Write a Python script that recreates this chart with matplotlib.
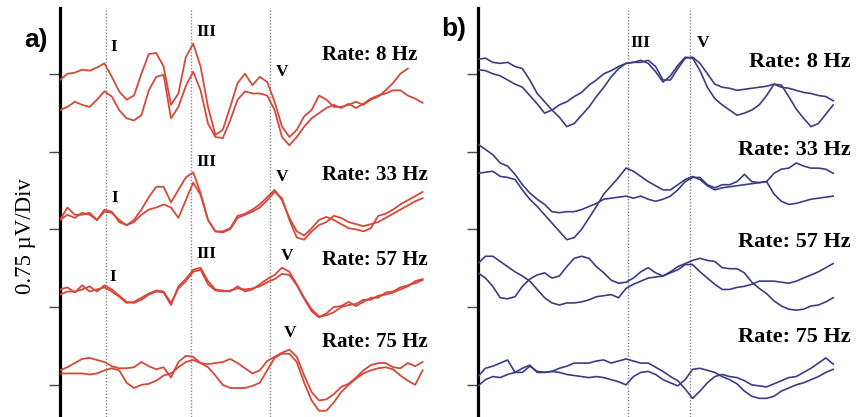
import numpy as np
from matplotlib import pyplot as plt

# ABR traces, amplitude in µV, one sample every 0.2 ms (two runs per rate)
a_8hz_1 = [0.29, 0.35, 0.36, 0.39, 0.38, 0.41, 0.45, 0.32, 0.18, 0.10, 0.14, 0.35, 0.54, 0.55, 0.42, 0.05,
           0.16, 0.51, 0.64, 0.42, 0.03, -0.24, -0.19, 0.03, 0.26, 0.35, 0.24, 0.32, 0.27, 0.08, -0.16, -0.26,
           -0.19, -0.06, 0.00, 0.14, 0.10, 0.03, 0.03, 0.05, 0.08, 0.05, 0.10, 0.13, 0.19, 0.26, 0.35, 0.40]
a_8hz_2 = [0.00, 0.03, 0.08, 0.05, 0.03, 0.10, 0.18, 0.13, 0.00, -0.08, -0.10, -0.05, 0.19, 0.32, 0.34, -0.08,
           0.03, 0.23, 0.37, 0.19, -0.13, -0.26, -0.27, -0.10, 0.10, 0.18, 0.16, 0.16, 0.14, 0.00, -0.26, -0.34,
           -0.26, -0.16, -0.08, -0.03, 0.02, 0.05, 0.02, 0.06, 0.02, 0.06, 0.11, 0.14, 0.16, 0.19, 0.19, 0.14,
           0.11, 0.07]
a_33hz_1 = [-0.05, 0.07, 0.00, 0.00, 0.02, -0.05, 0.05, 0.03, -0.07, -0.10, -0.05, 0.05, 0.17, 0.27, 0.27, 0.12,
            0.24, 0.36, 0.41, 0.21, -0.05, -0.16, -0.16, -0.13, -0.01, 0.01, 0.05, 0.10, 0.17, 0.24, 0.14, -0.03,
            -0.16, -0.20, -0.13, -0.05, -0.02, -0.05, -0.09, -0.13, -0.14, -0.16, -0.13, -0.01, 0.01, 0.05, 0.10,
            0.14, 0.18, 0.22]
a_33hz_2 = [-0.05, 0.00, -0.03, 0.02, 0.00, -0.05, 0.03, 0.02, -0.05, -0.10, -0.07, 0.00, 0.05, 0.07, 0.10, 0.07,
            -0.03, 0.14, 0.31, 0.19, -0.05, -0.16, -0.17, -0.14, -0.03, 0.00, 0.03, 0.07, 0.14, 0.22, 0.16, -0.05,
            -0.22, -0.24, -0.16, -0.10, -0.07, -0.01, -0.03, -0.07, -0.09, -0.11, -0.09, -0.07, -0.03, 0.01, 0.05,
            0.09, 0.13, 0.16]
a_57hz_1 = [-0.03, 0.00, 0.00, 0.02, 0.05, 0.00, 0.06, 0.02, -0.04, -0.10, -0.11, -0.08, -0.03, 0.00, -0.01, -0.13,
            0.05, 0.12, 0.21, 0.23, 0.10, 0.02, 0.01, 0.00, 0.05, 0.00, 0.02, 0.07, 0.12, 0.16, 0.23, 0.19, 0.07,
            -0.06, -0.17, -0.24, -0.23, -0.20, -0.15, -0.13, -0.12, -0.08, -0.08, -0.04, -0.03, -0.01, 0.02, 0.05,
            0.10, 0.12]
a_57hz_2 = [0.02, 0.04, -0.01, 0.06, 0.00, 0.02, 0.04, 0.00, -0.05, -0.11, -0.10, -0.06, -0.02, 0.01, 0.00, -0.11,
            0.03, 0.10, 0.19, 0.21, 0.07, 0.01, 0.00, 0.01, 0.03, 0.02, 0.03, 0.05, 0.09, 0.12, 0.17, 0.16, 0.06,
            -0.07, -0.19, -0.25, -0.21, -0.15, -0.14, -0.10, -0.14, -0.10, -0.06, -0.06, -0.01, 0.00, 0.04, 0.06,
            0.08, 0.11]
a_75hz_1 = [0.00, 0.03, 0.07, 0.11, 0.12, 0.10, 0.08, 0.04, 0.02, 0.02, 0.03, 0.08, 0.04, 0.01, 0.03, -0.07,
            0.08, 0.14, 0.13, 0.07, 0.06, 0.07, 0.08, 0.11, 0.07, 0.02, -0.03, 0.00, 0.09, 0.13, 0.17, 0.20, 0.13,
            -0.05, -0.21, -0.29, -0.28, -0.23, -0.16, -0.13, -0.07, 0.00, 0.05, 0.07, 0.07, 0.03, 0.02, 0.07,
            0.04, 0.08]
a_75hz_2 = [-0.03, -0.03, -0.03, -0.03, -0.04, -0.03, 0.00, 0.02, 0.00, -0.12, -0.17, -0.14, -0.13, -0.10, -0.05,
            -0.03, 0.03, 0.08, 0.10, 0.07, 0.03, -0.05, -0.14, -0.17, -0.17, -0.17, -0.15, -0.12, 0.00, 0.12, 0.16,
            0.16, 0.08, -0.12, -0.29, -0.39, -0.39, -0.31, -0.21, -0.14, -0.08, -0.03, 0.00, 0.02, 0.03, 0.01,
            -0.05, -0.10, -0.14, 0.00]

b_8hz_1 = [0.30, 0.31, 0.27, 0.26, 0.27, 0.23, 0.21, 0.10, -0.03, -0.11, -0.19, -0.26, -0.35, -0.32, -0.24, -0.16,
           -0.06, 0.03, 0.13, 0.21, 0.26, 0.27, 0.29, 0.26, 0.18, 0.08, 0.14, 0.24, 0.32, 0.31, 0.19, 0.03, -0.08,
           -0.14, -0.19, -0.24, -0.22, -0.19, -0.14, -0.05, 0.06, 0.05, -0.06, -0.18, -0.27, -0.35, -0.32, -0.23,
           -0.14]
b_8hz_2 = [0.20, 0.19, 0.16, 0.14, 0.10, 0.06, 0.03, -0.05, -0.13, -0.22, -0.19, -0.14, -0.11, -0.06, -0.02, 0.05,
           0.10, 0.16, 0.19, 0.23, 0.26, 0.27, 0.27, 0.29, 0.23, 0.10, 0.10, 0.21, 0.31, 0.32, 0.26, 0.16, 0.06,
           0.03, 0.02, 0.00, 0.01, 0.02, 0.03, 0.04, 0.06, 0.03, 0.02, 0.00, -0.02, -0.03, -0.05, -0.06, -0.10]
b_33hz_1 = [0.34, 0.29, 0.24, 0.16, 0.13, 0.05, -0.05, -0.13, -0.19, -0.24, -0.31, -0.32, -0.31, -0.31, -0.29,
            -0.26, -0.23, -0.19, -0.18, -0.17, -0.16, -0.18, -0.16, -0.19, -0.21, -0.19, -0.16, -0.10, -0.02, 0.02,
            0.02, -0.05, -0.08, -0.05, -0.05, -0.02, 0.05, -0.02, -0.03, -0.02, 0.06, 0.10, 0.11, 0.16, 0.13, 0.11,
            0.11, 0.10, 0.06]
b_33hz_2 = [0.06, 0.07, 0.08, 0.03, 0.02, 0.00, -0.10, -0.19, -0.26, -0.34, -0.42, -0.50, -0.58, -0.56, -0.48,
            -0.37, -0.26, -0.14, -0.06, 0.02, 0.11, 0.08, 0.03, -0.02, -0.06, -0.10, -0.10, -0.05, 0.00, 0.03,
            0.00, -0.06, -0.10, -0.08, -0.07, -0.06, -0.05, -0.04, -0.03, -0.02, -0.14, -0.21, -0.24, -0.23, -0.21,
            -0.19, -0.18, -0.17, -0.16]
b_57hz_1 = [0.06, 0.13, 0.13, 0.08, 0.03, -0.02, -0.06, -0.11, -0.19, -0.27, -0.32, -0.34, -0.32, -0.32, -0.31,
            -0.29, -0.26, -0.25, -0.24, -0.27, -0.18, -0.14, -0.11, -0.08, -0.07, -0.06, -0.02, 0.03, 0.06, 0.09,
            0.11, 0.09, 0.08, 0.02, 0.01, 0.01, -0.03, -0.12, -0.18, -0.23, -0.30, -0.35, -0.38, -0.39, -0.38,
            -0.35, -0.34, -0.31, -0.27]
b_57hz_2 = [-0.03, -0.08, -0.16, -0.27, -0.28, -0.26, -0.16, -0.09, -0.05, -0.03, -0.08, -0.06, 0.03, 0.11, 0.13,
            0.11, 0.03, -0.03, -0.10, -0.13, -0.12, -0.08, -0.02, 0.02, -0.03, -0.06, -0.03, 0.00, 0.05, 0.05,
            -0.02, -0.08, -0.14, -0.19, -0.19, -0.17, -0.16, -0.14, -0.11, -0.11, -0.11, -0.12, -0.13, -0.11,
            -0.08, -0.05, -0.02, 0.02, 0.06]
b_75hz_1 = [-0.02, 0.06, 0.08, 0.11, 0.14, 0.02, 0.06, 0.09, 0.02, 0.02, 0.03, 0.06, 0.08, 0.11, 0.11, 0.11,
            0.13, 0.14, 0.11, 0.13, 0.15, 0.13, 0.11, 0.11, 0.07, 0.03, -0.02, -0.06, -0.14, -0.23, -0.16, -0.08,
            -0.02, 0.00, -0.02, -0.03, -0.06, -0.10, -0.11, -0.12, -0.09, -0.06, -0.03, -0.02, 0.02, 0.06, 0.11,
            0.16, 0.10]
b_75hz_2 = [-0.11, -0.05, -0.02, -0.03, 0.00, 0.02, 0.02, 0.08, 0.03, 0.02, 0.03, 0.02, 0.00, -0.01, -0.02, -0.03,
            -0.02, -0.03, -0.05, -0.07, -0.10, -0.02, 0.02, 0.03, 0.00, -0.05, -0.08, -0.11, -0.05, 0.05, 0.06,
            0.04, 0.02, -0.02, -0.05, -0.09, -0.16, -0.21, -0.23, -0.23, -0.21, -0.16, -0.13, -0.10, -0.08, -0.05,
            -0.02, 0.02, 0.05]

rates = ['8', '33', '57', '75']
# peak labels: (name, latency ms, height µV)
peaks_a = [('I', 1.46, 3.57), ('III', 3.95, 3.71), ('V', 6.0, 3.33),
           ('I', 1.49, 2.11), ('III', 3.95, 2.46), ('V', 6.0, 2.31),
           ('I', 1.43, 1.35), ('III', 3.95, 1.57), ('V', 6.14, 1.55),
           ('V', 6.22, 0.81)]
peaks_b = [('III', 4.38, 3.61), ('V', 6.08, 3.61)]

SAMPLE_MS = 0.2
PX_MS = 37.0      # pixels per ms
PX_UV = 103.7     # pixels per µV (0.75 µV / div)
W, H = 857, 417
SERIF = ['Liberation Serif', 'DejaVu Serif']
SANS = ['Liberation Sans', 'DejaVu Sans']


def add_panel(fig, left, right, lines_ms):
    ax = fig.add_axes([left / W, 0, (right - left) / W, 409 / H])
    ax.set_xlim(0, (right - left) / PX_MS)
    ax.set_ylim(0, 409 / PX_UV)
    ax.patch.set_alpha(0)
    for s in ['top', 'right', 'bottom']:
        ax.spines[s].set_visible(False)
    ax.spines['left'].set_linewidth(2.3)
    ax.set_xticks([])
    ax.set_yticks([0.31 + 0.75 * i for i in range(5)])
    ax.set_yticklabels([])
    ax.tick_params(axis='y', direction='out', length=8, width=1, color='#4a4a4a')
    for t in lines_ms:
        ax.axvline(t, color='#858585', lw=1.0, ls=(0, (1, 1.3)), zorder=1)
    return ax


def main():
    fig = plt.figure(figsize=(8.57, 4.17), dpi=100)

    ax_a = add_panel(fig, 60, 432, [1.24, 3.54, 5.68])
    ax_b = add_panel(fig, 478, 857, [4.05, 5.73])

    # Panel a
    traces_a = [(a_8hz_1, a_8hz_2), (a_33hz_1, a_33hz_2), (a_57hz_1, a_57hz_2), (a_75hz_1, a_75hz_2)]
    base_a = [2.96, 1.95, 1.21, 0.45]
    for (t1, t2), base in zip(traces_a, base_a):
        for tr in (t1, t2):
            tr = np.array(tr)
            x = np.arange(len(tr)) * SAMPLE_MS
            ax_a.plot(x, tr + base, color='#d4493a', lw=1.3, zorder=3)
    for name, t, y in peaks_a:
        ax_a.text(t, y, name, family=SERIF, fontweight='bold', fontsize=12.5,
                  ha='center', va='center')
    for r, y in zip(rates, [3.49, 2.33, 1.51, 0.72]):
        ax_a.text(7.08, y, f'Rate: {r} Hz', family=SERIF, fontweight='bold', fontsize=15,
                  ha='left', va='center')

    # Panel b
    traces_b = [(b_8hz_1, b_8hz_2), (b_33hz_1, b_33hz_2), (b_57hz_1, b_57hz_2), (b_75hz_1, b_75hz_2)]
    base_b = [3.15, 2.29, 1.42, 0.41]
    for (t1, t2), base in zip(traces_b, base_b):
        for tr in (t1, t2):
            tr = np.array(tr)
            x = np.arange(len(tr)) * SAMPLE_MS
            ax_b.plot(x, tr + base, color='#3c3c85', lw=1.2, zorder=3)
    for name, t, y in peaks_b:
        ax_b.text(t, y, name, family=SERIF, fontweight='bold', fontsize=12.5,
                  ha='center', va='center')
    for r, y in zip(rates, [3.42, 2.57, 1.69, 0.77]):
        ax_b.text(10.08, y, f'Rate: {r} Hz', family=SERIF, fontweight='bold', fontsize=16,
                  ha='right', va='center')

    # panel tags and shared y label
    fig.text(36 / W, 1 - 40 / H, 'a)', family=SANS, fontweight='bold', fontsize=19,
             ha='center', va='center')
    fig.text(454 / W, 1 - 29 / H, 'b)', family=SANS, fontweight='bold', fontsize=19,
             ha='center', va='center')
    fig.text(25 / W, 1 - 236 / H, '0.75 µV/Div', family=SERIF, fontsize=16.5,
             rotation=90, ha='center', va='center')

    fig.savefig('out.png', dpi=100)


if __name__ == '__main__':
    main()
